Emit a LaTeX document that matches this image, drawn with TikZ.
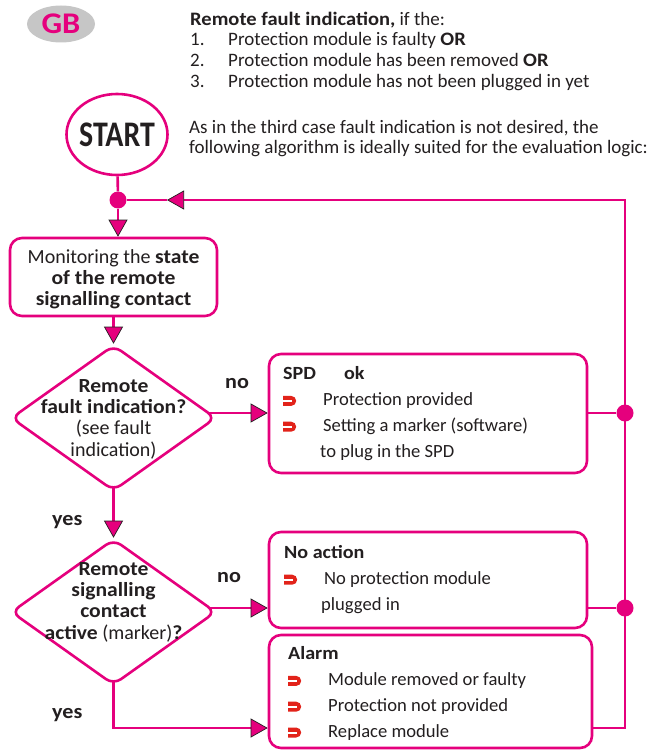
\documentclass[tikz,border=0pt]{standalone}
\usepackage{fontspec}
\setmainfont{Carlito}[BoldFeatures={FakeStretch=1.08}]
\newfontfamily\startfont{Carlito}[FakeStretch=0.83]
\usepackage{tikz}
\usetikzlibrary{shapes.geometric,arrows.meta,backgrounds,positioning}
\definecolor{signalpink}{HTML}{E5007D}
\definecolor{inkgray}{HTML}{231F20}
\definecolor{badgegray}{HTML}{C6C6C6}
\definecolor{pointerred}{HTML}{E2231A}
\tikzstyle{chart}=[
  x=1bp,y=-1bp,>={Triangle[length=17bp,width=19bp,fill=signalpink,color=inkgray,line width=0.7bp]},
  font=\fontsize{19bp}{20.5bp}\selectfont,text=inkgray
]
\tikzstyle{badge}=[
  ellipse,fill=badgegray,minimum width=68bp,minimum height=37bp,inner sep=0pt,
  text=signalpink,font=\fontsize{30bp}{30bp}\selectfont\bfseries
]
\tikzstyle{startnode}=[
  draw=signalpink,line width=2.6bp,ellipse,minimum width=101bp,minimum height=81bp,inner sep=0pt
]
\tikzstyle{starttext}=[
  inner sep=0pt,font=\fontsize{36bp}{36bp}\startfont\bfseries
]
\tikzstyle{statebox}=[
  draw=signalpink,line width=2.6bp,rounded corners=12bp,inner sep=0pt,fill=white
]
\tikzstyle{decision}=[
  draw=signalpink,line width=2.6bp,diamond,rounded corners=9bp,minimum width=205bp,minimum height=146bp,inner sep=0pt,fill=white
]
\tikzstyle{junction}=[
  circle,fill=signalpink,inner sep=0pt,minimum size=17bp
]
\tikzstyle{flowline}=[
  draw=signalpink,line width=2.6bp
]
\tikzstyle{branch}=[
  inner sep=0pt,anchor=base west,font=\fontsize{20.5bp}{20bp}\selectfont\bfseries
]
\tikzstyle{plaintext}=[
  anchor=base west,align=left,inner sep=0pt
]
\tikzstyle{centertext}=[
  anchor=base,align=center,inner sep=0pt,font=\fontsize{20bp}{21.2bp}\selectfont
]
\tikzstyle{boxtext}=[
  anchor=base west,align=left,inner sep=0pt,font=\fontsize{18.6bp}{25.8bp}\selectfont
]
\newcommand{\pointer}{\tikz[x=1bp,y=1bp,baseline=-4.5bp]{\fill[pointerred] (0,-5) -- (8,-5) arc[start angle=-90,end angle=90,radius=5] -- (0,5) -- cycle; \fill[white] (0,-1) rectangle (9,1);}}
\newcommand{\bul}[1]{\makebox[40bp][l]{\pointer}#1}

\begin{document}
\begin{tikzpicture}[chart]
  \useasboundingbox (0,0) rectangle (651,750);
  \node (badge) [badge] at (61,24) {GB};
  \node (title) [plaintext] at (190,87) {\textbf{Remote fault indication,} if the:\\
    \makebox[38bp][l]{1.}Protection module is faulty \textbf{OR}\\
    \makebox[38bp][l]{2.}Protection module has been removed \textbf{OR}\\
    \makebox[38bp][l]{3.}Protection module has not been plugged in yet};
  \node (start) [startnode] at (117,134.5) {};
  \node (starttxt) [starttext] at (start) {START};
  \node (intro) [plaintext] at (189,153.5) {As in the third case fault indication is not desired, the\\
    following algorithm is ideally suited for the evaluation logic:};
  \node (split) [junction] at (118,200) {};
  \node (monitor) [statebox,minimum width=207bp,minimum height=78bp] at (113.5,277) {};
  \node (monitortxt) [centertext,font=\fontsize{20bp}{21bp}\selectfont] at (113.5,305) {Monitoring the \textbf{state}\\
    \textbf{of the remote}\\\textbf{signalling contact}};
  \node (faultq) [decision] at (113.5,418) {};
  \node (faultqtxt) [centertext] at (113.5,456) {\textbf{Remote}\\\textbf{fault indication?}\\(see fault\\indication)};
  \node (activeq) [decision] at (113.5,612) {};
  \node (activeqtxt) [centertext] at (113.5,639) {\textbf{Remote}\\\textbf{signalling}\\\textbf{contact}\\\textbf{active} (marker)\textbf{?}};
  \node (spdok) [statebox,minimum width=318bp,minimum height=119bp] at (428,413.5) {};
  \node (spdoktxt) [boxtext] at (283,457) {\textbf{SPD\hspace{28bp}ok}\\
    \bul{Protection provided}\\\bul{Setting a marker (software)}\\\hspace*{37bp}to plug in the SPD};
  \node (noaction) [statebox,minimum width=318bp,minimum height=96bp] at (428,580) {};
  \node (noactiontxt) [boxtext] at (284,610) {\textbf{No action}\\
    \bul{No protection module}\\\hspace*{37bp}plugged in};
  \node (alarm) [statebox,minimum width=323bp,minimum height=113bp] at (430.5,691.5) {};
  \node (alarmtxt) [boxtext] at (288,737) {\textbf{Alarm}\\
    \bul{Module removed or faulty}\\\bul{Protection not provided}\\\bul{Replace module}};
  \node (spdjoin) [junction] at (625,413) {};
  \node (noactjoin) [junction] at (625,608) {};
  \coordinate (corner) at (625,728);
  \coordinate (back) at (167,200);
  \node (no1) [branch] at (225,388) {no};
  \node (no2) [branch] at (217,582) {no};
  \node (yes1) [branch] at (52,525) {yes};
  \node (yes2) [branch] at (52,718) {yes};
  \begin{scope}[on background layer]
    \draw [flowline] (start) -- (split);
    \draw [flowline,->] (split) -- (split |- monitor.north);
    \draw [flowline,->] (monitor.south) -- (faultq.north);
    \draw [flowline,->] (faultq.center) -- (activeq.north);
    \draw [flowline,->] (faultq.center |- spdjoin) -- (spdok.west |- spdjoin);
    \draw [flowline,->] (activeq.center |- noactjoin) -- (noaction.west |- noactjoin);
    \draw [flowline,->] (activeq.center) |- (alarm.west |- corner);
    \draw [flowline] (spdok.east |- spdjoin) -- (spdjoin);
    \draw [flowline] (noaction.east |- noactjoin) -- (noactjoin);
    \draw [flowline,->] (alarm.east |- corner) -- (corner) |- (back);
    \draw [flowline] (back) -- (split);
  \end{scope}
\end{tikzpicture}
\end{document}
